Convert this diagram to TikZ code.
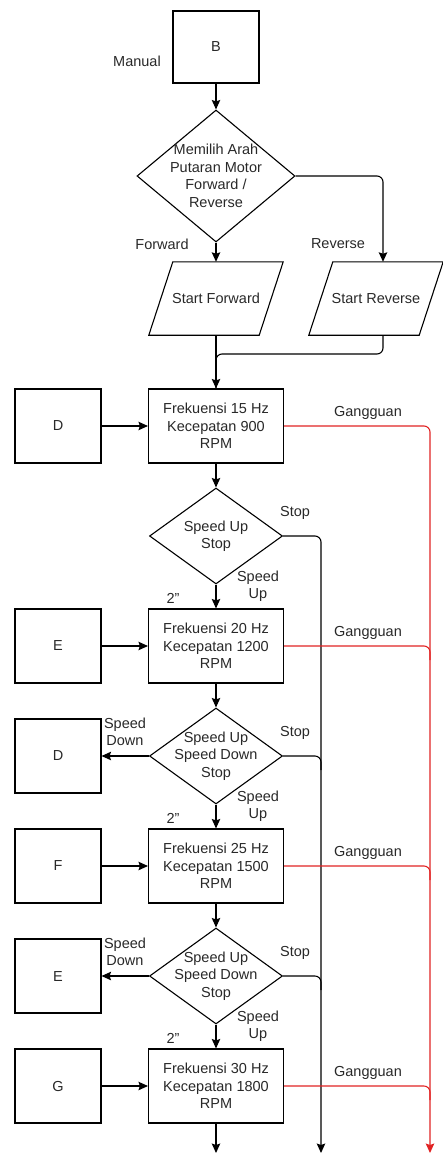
\documentclass[tikz,border=0pt]{standalone}
\usepackage{fontspec}
\setmainfont{Liberation Sans}
\usetikzlibrary{shapes.geometric,arrows.meta,calc}
\definecolor{gred}{RGB}{225,35,35}
\definecolor{tcol}{RGB}{40,40,40}
\begin{document}
\begin{tikzpicture}[x=1pt,y=-1pt,
  every node/.style={font=\fontsize{14.5}{17.5}\selectfont, text=tcol},
  box/.style={draw, line width=1.1pt, minimum width=135pt, minimum height=74pt, inner sep=0pt, align=center},
  sbox/.style={draw, line width=1.1pt, minimum width=86pt, minimum height=74pt, inner sep=0pt},
  dia/.style={draw, diamond, line width=1.1pt, inner sep=0pt},
  io/.style={minimum width=110pt, minimum height=73pt, inner sep=0pt},
  para/.style={line width=1.1pt, line join=miter},
  txt/.style={align=center},
  line/.style={line width=1.1pt, rounded corners=6pt},
  arr/.style={line, -{Stealth[length=9.5pt,width=8.5pt,inset=1.5pt]}},
  rline/.style={line, draw=gred},
  rarr/.style={arr, draw=gred},
]
\useasboundingbox (0,0) rectangle (443,1154);

% top part
\node[sbox, minimum height=72pt] (b) at (216,47) {B};
\node (manual) at (137,61) {Manual};
\node[dia, minimum width=158pt, minimum height=132pt,
  label={[txt]center:{Memilih Arah\\Putaran Motor\\Forward /\\Reverse}}] (d1) at (216,176) {};
\node (fwd) at (162,244) {Forward};
\node (rev) at (338,244) {Reverse};
\node[io] (sf) at (216,298.5) {Start Forward};
\node[io] (sr) at (376,298.5) {Start Reverse};
\foreach \p in {sf,sr}
  \draw[para] ([xshift=-12pt]\p.south west) -- ([xshift=12pt]\p.north west)
    -- ([xshift=12pt]\p.north east) -- ([xshift=-12pt]\p.south east) -- cycle;
\coordinate (j1) at (216,354);

% stages
\node[box] (f1) at (216,426) {Frekuensi 15 Hz\\Kecepatan 900\\RPM};
\node[sbox] (k1) at (58,426) {D};
\node[dia, minimum width=133pt, minimum height=96pt,
  label={[txt]center:{Speed Up\\Stop}}] (d2) at (216,536) {};
\node[box] (f2) at (216,646) {Frekuensi 20 Hz\\Kecepatan 1200\\RPM};
\node[sbox] (k2) at (58,646) {E};
\node[dia, minimum width=133pt, minimum height=96pt,
  label={[txt]center:{Speed Up\\Speed Down\\Stop}}] (d3) at (216,756) {};
\node[sbox] (k3) at (58,756) {D};
\node[box] (f3) at (216,866) {Frekuensi 25 Hz\\Kecepatan 1500\\RPM};
\node[sbox] (k4) at (58,866) {F};
\node[dia, minimum width=133pt, minimum height=96pt,
  label={[txt]center:{Speed Up\\Speed Down\\Stop}}] (d4) at (216,976) {};
\node[sbox] (k5) at (58,976) {E};
\node[box] (f4) at (216,1086) {Frekuensi 30 Hz\\Kecepatan 1800\\RPM};
\node[sbox] (k6) at (58,1086) {G};

\coordinate (endc) at (216,1153);
\coordinate (ends) at (321,1153);
\coordinate (endr) at (430,1153);

% labels
\node (g1) at (368,413) {Gangguan};
\node (g2) at (368,633) {Gangguan};
\node (g3) at (368,853) {Gangguan};
\node (g4) at (368,1073) {Gangguan};
\node (s2) at (295,513) {Stop};
\node (s3) at (295,733) {Stop};
\node (s4) at (295,953) {Stop};
\node[txt] (u2) at (258,586) {Speed\\Up};
\node[txt] (u3) at (258,806) {Speed\\Up};
\node[txt] (u4) at (258,1026) {Speed\\Up};
\node (t2) at (173,598) {2"};
\node (t3) at (173,818) {2"};
\node (t4) at (173,1038) {2"};
\node[txt] (w3) at (125,732) {Speed\\Down};
\node[txt] (w4) at (125,952) {Speed\\Down};

% connectors
\draw[arr] (b) -- (d1);
\draw[arr] (d1) -- (sf);
\draw[arr] (d1.east) -| ([xshift=7pt]sr.north);
\draw[line] ([xshift=7pt]sr.south) |- (j1) -- (f1.north);
\draw[arr] (sf) -- (f1);
\draw[arr] (k1) -- (f1);
\draw[arr] (f1) -- (d2);
\draw[arr] (d2.east) -| (ends);
\draw[arr] (d2) -- (f2);
\draw[arr] (k2) -- (f2);
\draw[arr] (f2) -- (d3);
\draw[arr] (d3) -- (k3);
\draw[line] (d3.east) -| ($(ends |- d3.east)+(0,14)$);
\draw[arr] (d3) -- (f3);
\draw[arr] (k4) -- (f3);
\draw[arr] (f3) -- (d4);
\draw[arr] (d4) -- (k5);
\draw[line] (d4.east) -| ($(ends |- d4.east)+(0,14)$);
\draw[arr] (d4) -- (f4);
\draw[arr] (k6) -- (f4);
\draw[arr] (f4) -- (endc);

% red fault lines
\draw[rarr] (f1.east) -| (endr);
\draw[rline] (f2.east) -| ($(endr |- f2.east)+(0,14)$);
\draw[rline] (f3.east) -| ($(endr |- f3.east)+(0,14)$);
\draw[rline] (f4.east) -| ($(endr |- f4.east)+(0,14)$);
\end{tikzpicture}
\end{document}
